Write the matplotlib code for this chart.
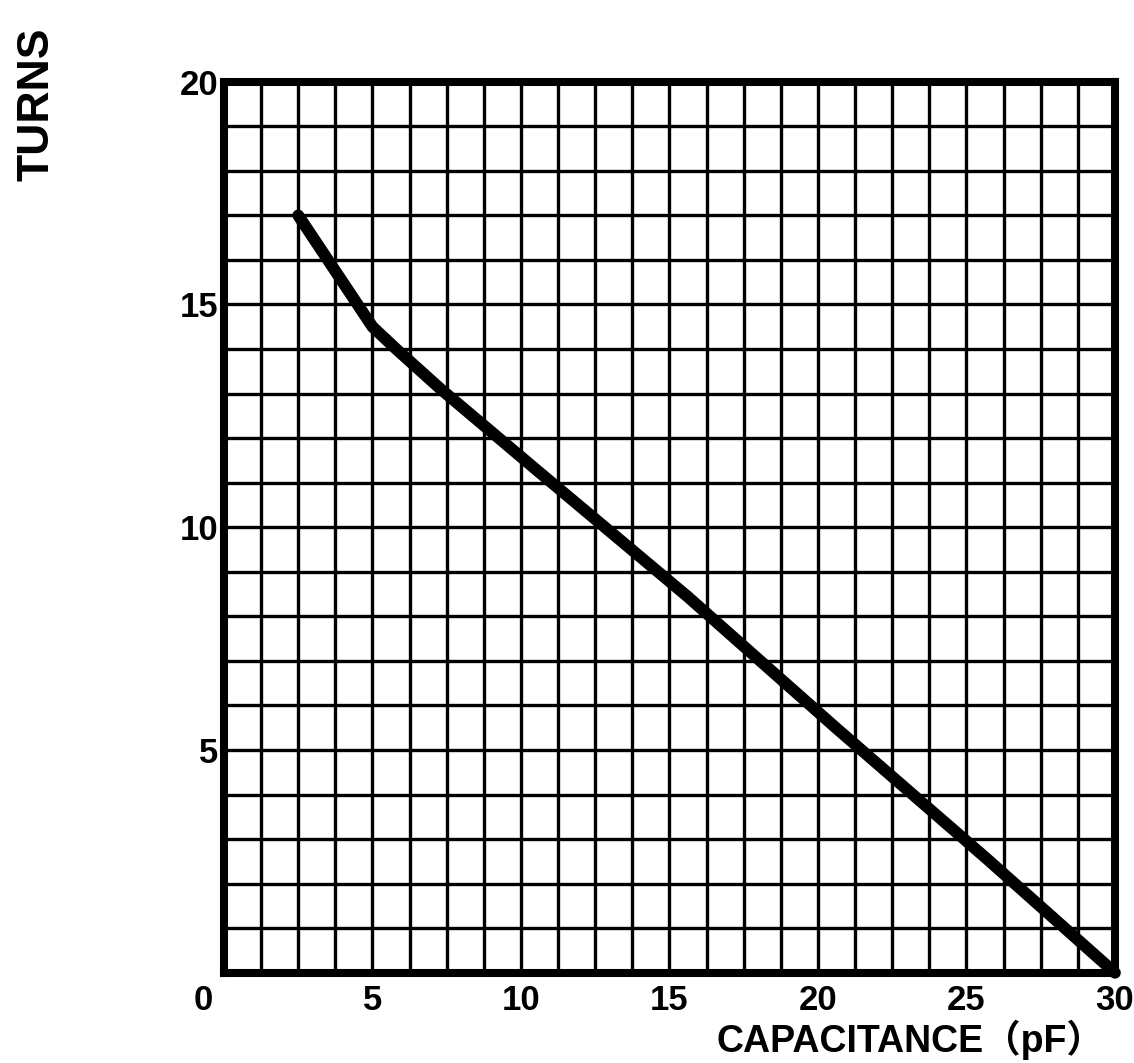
import numpy as np
import matplotlib
matplotlib.use("Agg")
import matplotlib.pyplot as plt
from matplotlib.ticker import MultipleLocator
import matplotlib.transforms as mtransforms

# Data
capacitance = [2.5, 4.1, 5.0, 5.8, 7.3, 10.5, 15.6, 20.6, 25.7, 30.0]
turns = [17.0, 15.4, 14.5, 14.0, 13.1, 11.3, 8.45, 5.5, 2.55, 0.0]
xtick_values = [0, 5, 10, 15, 20, 25, 30]
ytick_values = [5, 10, 15, 20]

narrow = ['Liberation Sans Narrow', 'Liberation Sans', 'DejaVu Sans']
wide = ['Liberation Sans', 'Noto Sans CJK JP', 'DejaVu Sans']

fig = plt.figure(figsize=(11.34, 10.63), dpi=100)
ax = fig.add_axes([0.1975, 0.0849, 0.7857, 0.8382])
ax.set_xlim(0, 30)
ax.set_ylim(0, 20)

ax.xaxis.set_minor_locator(MultipleLocator(1.25))
ax.yaxis.set_minor_locator(MultipleLocator(1))
ax.set_xticks(xtick_values)
ax.set_yticks(ytick_values)
ax.set_xticklabels([str(v) for v in xtick_values], fontfamily=narrow, fontweight='bold', fontsize=25)
ax.set_yticklabels([str(v) for v in ytick_values], fontfamily=narrow, fontweight='bold', fontsize=25)
ax.tick_params(which='both', length=0)
ax.tick_params(axis='x', pad=8)
ax.tick_params(axis='y', pad=4)

# shift the "0" label to the left
lbl0 = ax.get_xticklabels()[0]
lbl0.set_transform(lbl0.get_transform() + mtransforms.ScaledTranslation(-21 / 100, 0, fig.dpi_scale_trans))

ax.grid(which='both', color='black', linewidth=2.4)
ax.set_axisbelow(True)
for s in ax.spines.values():
    s.set_linewidth(5.8)
    s.set_color('black')
    s.set_zorder(5)

ax.plot(capacitance, turns, color='black', linewidth=8.5, solid_capstyle='round',
        solid_joinstyle='round', zorder=6, clip_on=False)

fig.text(0.0326, 0.902, 'TURNS', rotation=90, ha='center', va='center',
         fontfamily=narrow, fontweight='bold', fontsize=32)
fig.text(0.803, 0.0216, 'CAPACITANCE（pF）', ha='center', va='center',
         fontfamily=wide, fontweight='bold', fontsize=27)

fig.savefig('out.png', dpi=100)
